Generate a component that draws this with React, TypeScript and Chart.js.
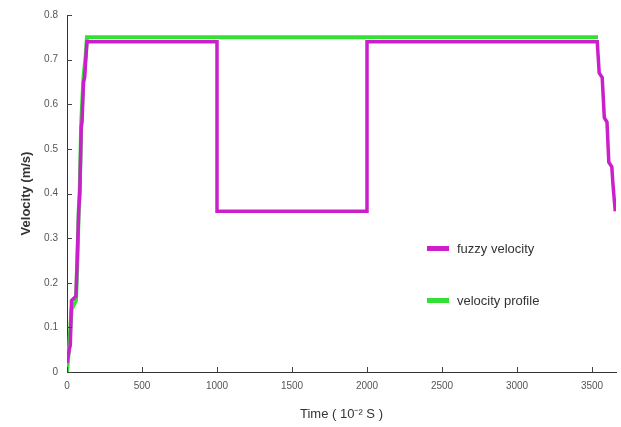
import React, { useEffect, useRef } from "react";
import { Chart, registerables } from "chart.js";

Chart.register(...registerables);

const fuzzyTime = [0, 15, 22, 30, 60, 68, 78, 85, 95, 100, 110, 118, 125, 133, 1000, 1000, 2000, 2000, 3535, 3548, 3568, 3582, 3600, 3612, 3632, 3640, 3655];
const fuzzyVel = [0.02, 0.05, 0.06, 0.16, 0.17, 0.25, 0.36, 0.4, 0.55, 0.56, 0.65, 0.66, 0.7, 0.74, 0.74, 0.36, 0.36, 0.74, 0.74, 0.67, 0.66, 0.57, 0.56, 0.47, 0.46, 0.42, 0.36];

const profileTime = [0, 15, 30, 60, 68, 78, 85, 95, 110, 125, 133, 3540];
const profileVel = [0, 0.06, 0.14, 0.16, 0.24, 0.36, 0.41, 0.56, 0.66, 0.71, 0.75, 0.75];

const xTicks = [0, 500, 1000, 1500, 2000, 2500, 3000, 3500];
const yTicks = [0, 0.1, 0.2, 0.3, 0.4, 0.5, 0.6, 0.7, 0.8];

const seriesNames = ["fuzzy velocity", "velocity profile"];
const seriesColors = ["#cc1fcc", "#33e033"];

export default function App() {
  const ref = useRef<HTMLCanvasElement | null>(null);

  useEffect(() => {
    if (!ref.current) return;
    const inwardTicks = {
      id: "inwardTicks",
      afterDraw(chart: any) {
        const ctx = chart.ctx;
        const xs = chart.scales.x;
        const ys = chart.scales.y;
        const area = chart.chartArea;
        ctx.save();
        ctx.strokeStyle = "#444";
        ctx.lineWidth = 1;
        ctx.beginPath();
        xTicks.forEach((t) => {
          const px = Math.round(xs.getPixelForValue(t)) + 0.5;
          ctx.moveTo(px, area.bottom);
          ctx.lineTo(px, area.bottom - 5);
        });
        yTicks.forEach((t) => {
          const py = Math.round(ys.getPixelForValue(t)) + 0.5;
          ctx.moveTo(area.left, py);
          ctx.lineTo(area.left + 5, py);
        });
        ctx.stroke();
        ctx.restore();
      },
    };
    const chart = new Chart(ref.current, {
      type: "line",
      data: {
        datasets: [
          {
            label: seriesNames[0],
            data: fuzzyTime.map((t, i) => ({ x: t, y: fuzzyVel[i] })),
            borderColor: seriesColors[0],
            backgroundColor: seriesColors[0],
            borderWidth: 3.5,
            pointRadius: 0,
            tension: 0,
          },
          {
            label: seriesNames[1],
            data: profileTime.map((t, i) => ({ x: t, y: profileVel[i] })),
            borderColor: seriesColors[1],
            backgroundColor: seriesColors[1],
            borderWidth: 4,
            pointRadius: 0,
            tension: 0,
          },
        ],
      },
      options: {
        animation: false,
        responsive: false,
        maintainAspectRatio: false,
        layout: { padding: { left: 0, right: 5, top: 15, bottom: 0 } },
        plugins: { legend: { display: false }, tooltip: { enabled: false } },
        scales: {
          x: {
            type: "linear",
            min: 0,
            max: 3660,
            afterBuildTicks: (s: any) => {
              s.ticks = xTicks.map((v) => ({ value: v }));
            },
            afterFit: (s: any) => {
              s.height = 55;
            },
            grid: { display: true, drawOnChartArea: false, drawTicks: false },
            border: { display: true, color: "#333", width: 1 },
            ticks: {
              padding: 8,
              color: "#555",
              font: { family: "Liberation Sans", size: 10 },
              maxRotation: 0,
              callback: (v: any) => String(v),
            },
            title: {
              display: true,
              text: "Time ( 10\u207B\u00B2 S )",
              color: "#333",
              font: { family: "Liberation Sans", size: 13 },
              padding: { top: 0, bottom: 5 },
            },
          },
          y: {
            min: 0,
            max: 0.8,
            afterBuildTicks: (s: any) => {
              s.ticks = yTicks.map((v) => ({ value: v }));
            },
            afterFit: (s: any) => {
              s.width = 67;
            },
            grid: { display: true, drawOnChartArea: false, drawTicks: false },
            border: { display: true, color: "#333", width: 1 },
            ticks: {
              padding: 9,
              color: "#555",
              font: { family: "Liberation Sans", size: 10 },
              callback: (v: any) => String(Math.round(Number(v) * 10) / 10),
            },
            title: {
              display: true,
              text: "Velocity (m/s)",
              color: "#333",
              font: { family: "Liberation Sans", size: 13, weight: "bold" },
              padding: { top: 19, bottom: 0 },
            },
          },
        },
      },
      plugins: [inwardTicks],
    });
    return () => chart.destroy();
  }, []);

  const legendItem = (i: number, top: number) => (
    <div
      style={{
        position: "absolute",
        left: 427,
        top,
        display: "flex",
        alignItems: "center",
        fontFamily: "Liberation Sans, Arial, sans-serif",
        fontSize: 13,
        color: "#333",
      }}
    >
      <span
        style={{
          display: "inline-block",
          width: 22,
          height: 5,
          background: seriesColors[i],
          marginRight: 8,
        }}
      />
      <span>{seriesNames[i]}</span>
    </div>
  );

  return (
    <div style={{ position: "fixed", left: 0, top: 0, width: 621, height: 427, background: "#fff" }}>
      <canvas ref={ref} width={621} height={427} style={{ width: 621, height: 427 }} />
      {legendItem(0, 241)}
      {legendItem(1, 293)}
    </div>
  );
}
